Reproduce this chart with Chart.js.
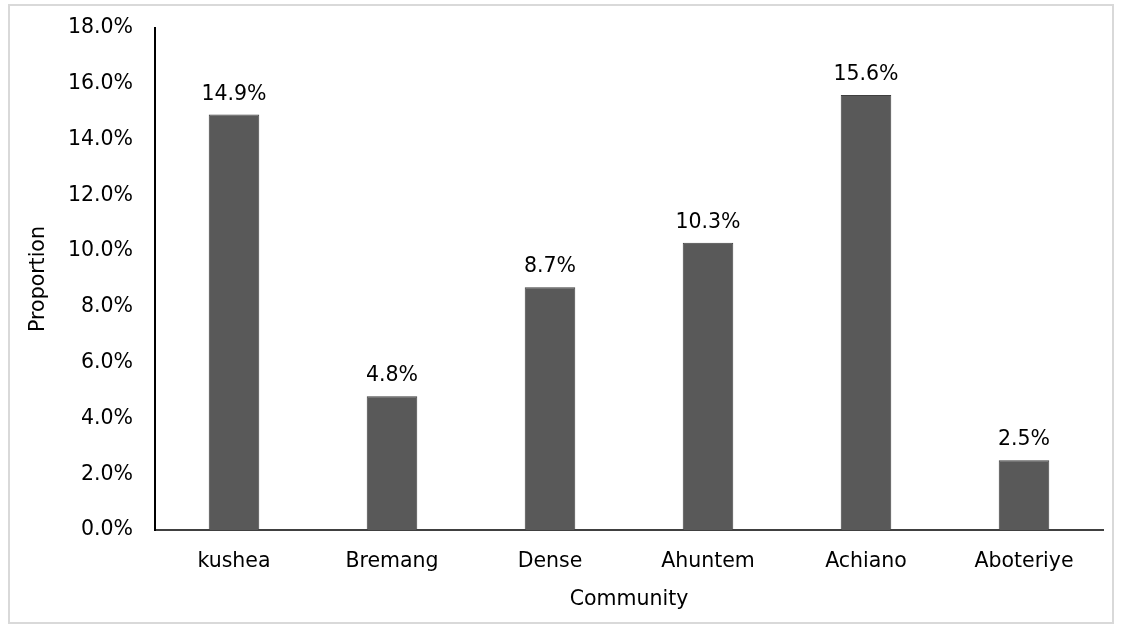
<!DOCTYPE html>
<html>
<head>
<meta charset="utf-8">
<script src="https://cdn.jsdelivr.net/npm/chart.js@4"></script>
<style>
  html, body { margin: 0; padding: 0; background: #fff; }
  #wrap { position: absolute; left: 0; top: 0; width: 1125px; height: 628px; }
  #frame { position: absolute; left: 8px; top: 4px; width: 1106px; height: 620px;
           border: 2px solid #d9d9d9; box-sizing: border-box; pointer-events: none; }
</style>
</head>
<body>
<div id="wrap">
  <canvas id="bar_chart" width="1125" height="628"></canvas>
  <div id="frame"></div>
</div>
<script>
var communities = ['kushea', 'Bremang', 'Dense', 'Ahuntem', 'Achiano', 'Aboteriye'];
var proportions = [14.9, 4.8, 8.7, 10.3, 15.6, 2.5];
var yMin = 0;
var yMax = 18;
var yStep = 2;

var labelFont = 'DejaVu Sans';
var fontSize = 20.5;

// draws the percentage above each bar
var valueLabels = {
  id: 'valueLabels',
  afterDatasetsDraw: function(chart) {
    var ctx = chart.ctx;
    var meta = chart.getDatasetMeta(0);
    ctx.save();
    ctx.font = fontSize + 'px "' + labelFont + '"';
    ctx.fillStyle = '#000';
    ctx.textAlign = 'center';
    ctx.textBaseline = 'bottom';
    meta.data.forEach(function(bar, i) {
      ctx.fillText(proportions[i].toFixed(1) + '%', bar.x, bar.y - 10);
    });
    ctx.restore();
  }
};

var ctx = document.getElementById('bar_chart');
var barChart = new Chart(ctx, {
  type: 'bar',
  data: {
    labels: communities,
    datasets: [{
      label: 'Proportion',
      data: proportions,
      backgroundColor: '#595959',
      borderColor: '#3f3f3f',
      borderWidth: 1,
      categoryPercentage: 1.0,
      barPercentage: 0.32
    }]
  },
  options: {
    responsive: false,
    animation: false,
    layout: {
      padding: { left: 0, right: 22, top: 28, bottom: 16 }
    },
    plugins: {
      legend: { display: false },
      tooltip: { enabled: false }
    },
    scales: {
      x: {
        grid: { display: false, drawTicks: false },
        border: { color: '#404040', width: 2 },
        ticks: {
          color: '#000',
          font: { family: labelFont, size: fontSize },
          padding: 19
        },
        title: {
          display: true,
          text: 'Community',
          color: '#000',
          font: { family: labelFont, size: fontSize },
          padding: { top: 10, bottom: 0 }
        },
        afterFit: function(scale) { scale.height = 82; }
      },
      y: {
        min: yMin,
        max: yMax,
        grid: { display: false, drawTicks: false },
        border: { color: '#000', width: 2 },
        ticks: {
          stepSize: yStep,
          color: '#000',
          font: { family: labelFont, size: fontSize },
          padding: 22,
          callback: function(v) { return v.toFixed(1) + '%'; }
        },
        title: {
          display: true,
          text: 'Proportion',
          color: '#000',
          font: { family: labelFont, size: fontSize },
          padding: { top: 26, bottom: 0 }
        },
        afterFit: function(scale) {
          scale.width = 155;
          scale.paddingTop = 0;
        }
      }
    }
  },
  plugins: [valueLabels]
});
</script>
</body>
</html>
